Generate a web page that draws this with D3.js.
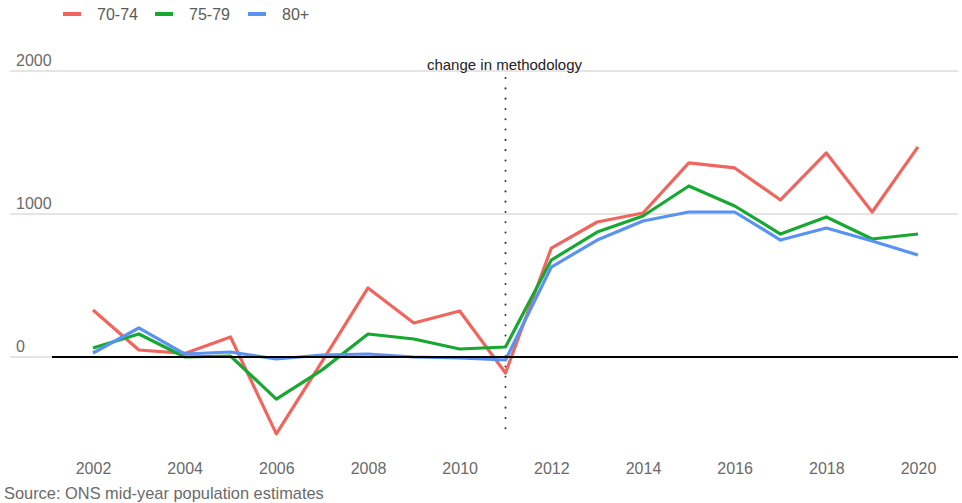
<!DOCTYPE html>
<html><head><meta charset="utf-8">
<script src="https://cdn.jsdelivr.net/npm/d3@7"></script>
<style>
html,body{margin:0;padding:0;background:#fff;}
svg{display:block;font-family:"Liberation Sans",Arial,sans-serif;}
</style></head>
<body>
<svg id="chart" width="962" height="503"></svg>
<script>
const years = d3.range(2002, 2021);
const seriesNames = ["70-74", "75-79", "80+"];
const colors = ["#f0665e", "#17a831", "#5a92f2"];
const v7074 = [329, 49, 25, 140, -538, -30, 483, 238, 322, -112, 762, 944, 1007, 1357, 1322, 1098, 1427, 1014, 1469];
const v7579 = [63, 161, 0, 7, -294, -90, 161, 126, 56, 70, 678, 874, 986, 1196, 1056, 860, 979, 825, 860];
const v80 = [28, 203, 21, 35, -14, 14, 21, 0, -7, -21, 629, 818, 951, 1014, 1014, 818, 902, 811, 713];
const yTicks = [0, 1000, 2000];
const xTicks = [2002, 2004, 2006, 2008, 2010, 2012, 2014, 2016, 2018, 2020];
const annotationYear = 2011;
const annotationText = "change in methodology";
const sourceText = "Source: ONS mid-year population estimates";

const series = [v7074, v7579, v80];
const svg = d3.select("#chart");
const x = d3.scaleLinear().domain([2002, 2020]).range([93, 918]);
const y = d3.scaleLinear().domain([0, 2000]).range([357, 71]);

// gridlines
const grid = svg.append("g");
grid.selectAll("line").data(yTicks).join("line")
  .attr("x1", 10).attr("x2", 958)
  .attr("y1", d => y(d)).attr("y2", d => y(d))
  .attr("stroke", "#dcdcdc").attr("stroke-width", 1.5);
grid.selectAll("text").data(yTicks).join("text")
  .attr("x", 16).attr("y", d => y(d) - 5)
  .attr("font-size", 16).attr("fill", "#6a6a6a")
  .text(d => d);

// x axis labels
const xa = svg.append("g").attr("transform", "translate(0,474)")
  .call(d3.axisBottom(x).tickValues(xTicks).tickFormat(d3.format("d")).tickSize(0));
xa.select(".domain").remove();
xa.selectAll("text").attr("font-size", 16).attr("fill", "#6a6a6a")
  .attr("font-family", "Liberation Sans, Arial, sans-serif").attr("dy", 0).attr("y", 0);

// annotation dotted line
svg.append("line")
  .attr("x1", x(annotationYear)).attr("x2", x(annotationYear))
  .attr("y1", 78).attr("y2", 430)
  .attr("stroke", "#333").attr("stroke-width", 2)
  .attr("stroke-linecap", "round").attr("stroke-dasharray", "0.1,10.2");
svg.append("text").attr("x", x(annotationYear) - 1).attr("y", 70)
  .attr("text-anchor", "middle").attr("font-size", 15).attr("fill", "#222")
  .text(annotationText);

// lines
const line = d3.line().x((d, i) => x(years[i])).y(d => y(d));
svg.append("g").selectAll("path").data(series).join("path")
  .attr("d", d => line(d)).attr("fill", "none")
  .attr("stroke", (d, i) => colors[i]).attr("stroke-width", 3.2)
  .attr("stroke-linejoin", "round");

// zero line
svg.append("line").attr("x1", 52).attr("x2", 958)
  .attr("y1", y(0)).attr("y2", y(0))
  .attr("stroke", "#000").attr("stroke-width", 2);

// legend
const legendX = [63, 155, 248];
const lg = svg.append("g");
seriesNames.forEach((n, i) => {
  lg.append("line").attr("x1", legendX[i]).attr("x2", legendX[i] + 18)
    .attr("y1", 14).attr("y2", 14)
    .attr("stroke", colors[i]).attr("stroke-width", 4);
  lg.append("text").attr("x", legendX[i] + 34).attr("y", 20)
    .attr("font-size", 16).attr("fill", "#5a5a5a").text(n);
});

// source
svg.append("text").attr("x", 4).attr("y", 499)
  .attr("font-size", 16.4).attr("fill", "#6a6a6a").text(sourceText);
</script>
</body></html>
